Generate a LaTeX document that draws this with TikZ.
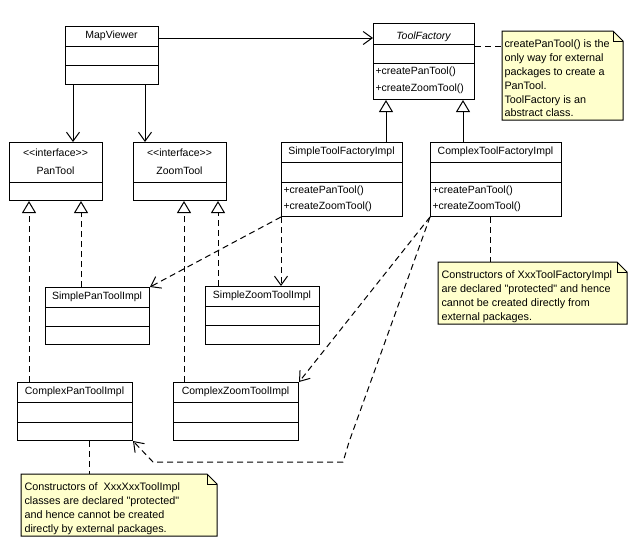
\documentclass[tikz,border=0pt]{standalone}
\usepackage{fontspec}
\setmainfont{Liberation Sans}[Ligatures=TeXOff]
\usetikzlibrary{arrows.meta}
\definecolor{notefill}{HTML}{FFFFCC}
\begin{document}
\begin{tikzpicture}[x=1pt,y=-1pt,line width=1pt,
  cls/.style={draw,fill=white,inner sep=0pt,anchor=north west},
  lbl/.style={font=\fontsize{10.5}{12}\selectfont,inner sep=0pt,text height=7.5pt,text depth=2pt},
  meth/.style={lbl,anchor=west},
  notebox/.style={inner sep=0pt,anchor=north west},
  notetext/.style={font=\fontsize{10.8}{13.8}\selectfont,inner sep=0pt,align=left,anchor=north west},
  dsh/.style={dash pattern=on 6pt off 4pt},
  assoc/.style={-{Straight Barb[length=9pt,width=13pt,line width=1pt]}},
  inh/.style={-{Triangle[length=12pt,width=14pt,fill=white,line width=1pt]}},
  dep/.style={dsh,-{Straight Barb[length=9pt,width=13pt,line width=1pt]}},
  real/.style={dsh,-{Triangle[length=12pt,width=14pt,fill=white,line width=1pt]}}]
\useasboundingbox[fill=white] (0,0) rectangle (635,558);

% ---------- classes ----------
\node[cls,minimum width=93pt,minimum height=58pt] (mv) at (65,26) {};
\draw (65,46) -- (158,46) (65,65) -- (158,65);
\node[lbl] (mvn) at (111.5,36) {MapViewer};

\node[cls,minimum width=101pt,minimum height=76pt] (tf) at (373,23) {};
\draw (373,44) -- (474,44) (373,63) -- (474,63);
\node[lbl] (tfn) at (423.5,37) {\itshape ToolFactory};
\node[meth] (tfm1) at (375,72) {+createPanTool()};
\node[meth] (tfm2) at (375,89) {+createZoomTool()};

\node[cls,minimum width=93pt,minimum height=58pt] (pan) at (9,142) {};
\draw (9,182) -- (102,182);
\node[lbl] (pans) at (55.5,154) {<<interface>>};
\node[lbl] (pann) at (55.5,172) {PanTool};

\node[cls,minimum width=93pt,minimum height=58pt] (zoom) at (133,142) {};
\draw (133,182) -- (226,182);
\node[lbl] (zooms) at (179.5,154) {<<interface>>};
\node[lbl] (zoomn) at (179.5,172) {ZoomTool};

\node[cls,minimum width=121pt,minimum height=74pt] (stfi) at (281,142) {};
\draw (281,162) -- (402,162) (281,182) -- (402,182);
\node[lbl] (stfin) at (341.5,152) {SimpleToolFactoryImpl};
\node[meth] (stfim1) at (283,191) {+createPanTool()};
\node[meth] (stfim2) at (283,207) {+createZoomTool()};

\node[cls,minimum width=131pt,minimum height=74pt] (ctfi) at (430,142) {};
\draw (430,162) -- (561,162) (430,182) -- (561,182);
\node[lbl] (ctfin) at (495.5,152) {ComplexToolFactoryImpl};
\node[meth] (ctfim1) at (432,191) {+createPanTool()};
\node[meth] (ctfim2) at (432,207) {+createZoomTool()};

\node[cls,minimum width=104pt,minimum height=57pt] (spti) at (45,287) {};
\draw (45,307) -- (149,307) (45,326) -- (149,326);
\node[lbl] (sptin) at (97,297) {SimplePanToolImpl};

\node[cls,minimum width=114pt,minimum height=58pt] (szti) at (205,286) {};
\draw (205,306) -- (319,306) (205,325) -- (319,325);
\node[lbl] (sztin) at (262,296) {SimpleZoomToolImpl};

\node[cls,minimum width=115pt,minimum height=58pt] (cpti) at (17,382) {};
\draw (17,402) -- (132,402) (17,422) -- (132,422);
\node[lbl] (cptin) at (74.5,392) {ComplexPanToolImpl};

\node[cls,minimum width=125pt,minimum height=58pt] (czti) at (173,382) {};
\draw (173,402) -- (298,402) (173,422) -- (298,422);
\node[lbl] (cztin) at (235.5,392) {ComplexZoomToolImpl};

% ---------- notes ----------
\node[notebox,minimum width=120pt,minimum height=88pt] (n1) at (502,31) {};
\draw[fill=notefill] (n1.north west) -- ([xshift=-10pt]n1.north east) -- ([yshift=-10pt]n1.north east) -- (n1.south east) -- (n1.south west) -- cycle;
\draw ([xshift=-10pt]n1.north east) |- ([yshift=-10pt]n1.north east);
\node[notetext] (n1t) at (504,39.5) {createPanTool() is the\\only way for external\\packages to create a\\PanTool.\\ToolFactory is an\\abstract class.};

\node[notebox,minimum width=188pt,minimum height=61pt] (n2) at (438,262) {};
\draw[fill=notefill] (n2.north west) -- ([xshift=-10pt]n2.north east) -- ([yshift=-10pt]n2.north east) -- (n2.south east) -- (n2.south west) -- cycle;
\draw ([xshift=-10pt]n2.north east) |- ([yshift=-10pt]n2.north east);
\node[notetext] (n2t) at (441,270.5) {Constructors of XxxToolFactoryImpl\\are declared "protected" and hence\\cannot be created directly from\\external packages.};

\node[notebox,minimum width=195pt,minimum height=61pt] (n3) at (21,474) {};
\draw[fill=notefill] (n3.north west) -- ([xshift=-10pt]n3.north east) -- ([yshift=-10pt]n3.north east) -- (n3.south east) -- (n3.south west) -- cycle;
\draw ([xshift=-10pt]n3.north east) |- ([yshift=-10pt]n3.north east);
\node[notetext] (n3t) at (24,482.5) {Constructors of \ XxxXxxToolImpl\\classes are declared "protected"\\and hence cannot be created\\directly by external packages.};

% ---------- connectors ----------
\draw[assoc] (mv.east |- 0,38) -- (tf.west |- 0,38);
\draw[assoc] (73,0 |- mv.south) -- (73,0 |- pan.north);
\draw[assoc] (145,0 |- mv.south) -- (145,0 |- zoom.north);

\draw[inh] (386,0 |- stfi.north) -- (386,0 |- tf.south);
\draw[inh] (463,0 |- ctfi.north) -- (463,0 |- tf.south);

\draw[real] (29,0 |- cpti.north) -- (29,0 |- pan.south);
\draw[real] (81,0 |- spti.north) -- (81,0 |- pan.south);
\draw[real] (184,0 |- czti.north) -- (184,0 |- zoom.south);
\draw[real] (218,0 |- szti.north) -- (218,0 |- zoom.south);

\draw[dep] (stfi.south west) -- (spti.north east);
\draw[dep] (stfi.south west) -- (stfi.south west |- szti.north);
\draw[dep] (ctfi.south west) -- (czti.north east);
\draw[dep] (ctfi.south west) -- (349,442) -- (343,462) -- (153,462) -- (cpti.south east);

\draw[dsh] (tf.east |- 0,46) -- (n1.west |- 0,46);
\draw[dsh] (490,0 |- ctfi.south) -- (490,0 |- n2.north);
\draw[dsh] (89,0 |- cpti.south) -- (89,0 |- n3.north);
\end{tikzpicture}
\end{document}
